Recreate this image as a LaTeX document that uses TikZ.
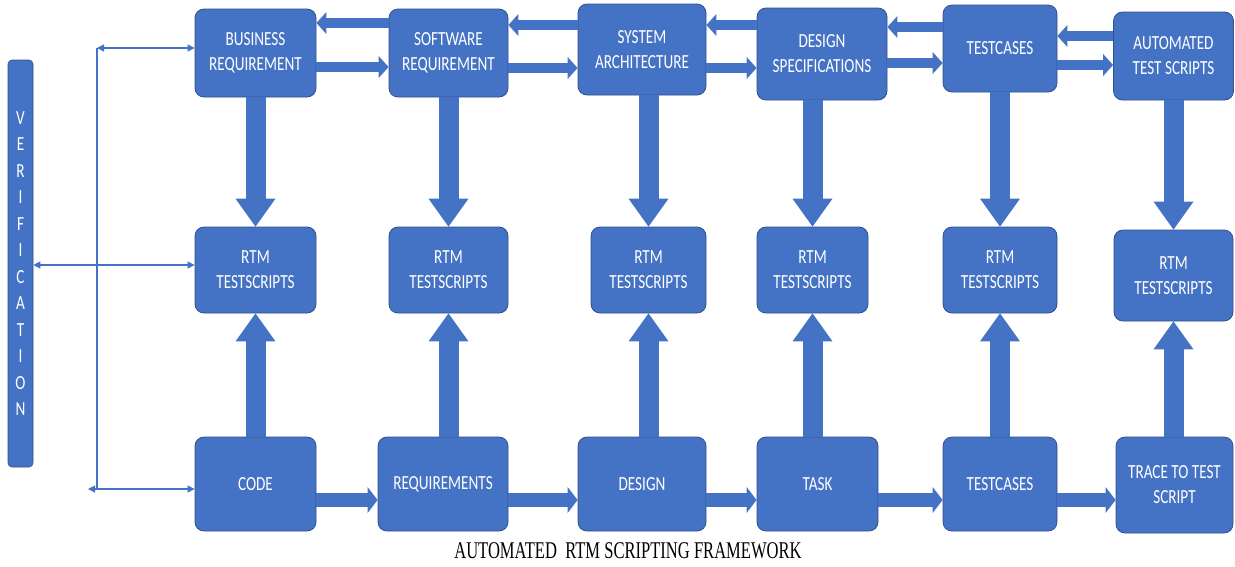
\documentclass[tikz,border=0pt]{standalone}
\usepackage{fontspec}
\setmainfont{Carlito}[FakeStretch=0.76]
\newfontfamily\captionserif{Liberation Serif}[FakeStretch=0.69]
\usepackage{tikz}
\usetikzlibrary{arrows.meta,calc}
\definecolor{boxblue}{HTML}{4472C4}
\definecolor{edgeblue}{HTML}{2F528F}
\tikzset{
  block/.style = {rectangle, rounded corners=9pt, draw=edgeblue, line width=0.8pt,
                  fill=boxblue, text=white, align=center, inner sep=0pt,
                  minimum height=88pt, font=\fontsize{20}{25}\selectfont},
  vbar/.style  = {rectangle, rounded corners=4pt, draw=edgeblue, line width=0.6pt,
                  fill=boxblue, text=white, align=center, inner sep=0pt,
                  font=\fontsize{20}{26.5}\selectfont},
  arr/.style   = {-{Triangle[length=28pt,width=40pt,line width=0pt]}, line width=20pt, boxblue},
  harr/.style  = {-{Triangle[length=10pt,width=22pt,line width=0pt]}, line width=10pt, boxblue},
  barr/.style  = {-{Triangle[length=10pt,width=26pt,line width=0pt]}, line width=14pt, boxblue},
  link/.style  = {{Triangle[length=7pt,width=7pt]}-{Triangle[length=7pt,width=7pt]}, line width=1.1pt, boxblue},
}

\begin{document}
\begin{tikzpicture}[x=1pt,y=-1pt]
  \fill[white] (0,0) rectangle (1235,566);
  \useasboundingbox (0,0) rectangle (1235,566);

  % top row
  \node[block,minimum width=121pt] (br)  at (255.5,53)  {BUSINESS\\REQUIREMENT};
  \node[block,minimum width=119pt] (sr)  at (448.5,53)  {SOFTWARE\\REQUIREMENT};
  \node[block,minimum width=128pt,minimum height=91pt] (sa) at (642,49.5) {SYSTEM\\ARCHITECTURE};
  \node[block,minimum width=130pt,minimum height=92pt] (ds) at (822,54) {DESIGN\\SPECIFICATIONS};
  \node[block,minimum width=114pt,minimum height=87pt] (tct) at (1000,48.5) {TESTCASES};
  \node[block,minimum width=120pt] (ats) at (1173.5,56) {AUTOMATED\\TEST SCRIPTS};

  % middle row
  \node[block,minimum width=121pt,minimum height=86pt] (r1) at (255.5,270) {RTM\\TESTSCRIPTS};
  \node[block,minimum width=119pt,minimum height=86pt] (r2) at (448.5,270) {RTM\\TESTSCRIPTS};
  \node[block,minimum width=115pt,minimum height=86pt] (r3) at (648.5,270) {RTM\\TESTSCRIPTS};
  \node[block,minimum width=111pt,minimum height=86pt] (r4) at (812.5,270) {RTM\\TESTSCRIPTS};
  \node[block,minimum width=114pt,minimum height=86pt] (r5) at (1000,270) {RTM\\TESTSCRIPTS};
  \node[block,minimum width=119pt,minimum height=91pt] (r6) at (1173.5,275.5) {RTM\\TESTSCRIPTS};

  % bottom row
  \node[block,minimum width=121pt,minimum height=94pt] (code)  at (255.5,484) {CODE};
  \node[block,minimum width=130pt,minimum height=94pt] (req)   at (443,484)   {REQUIREMENTS};
  \node[block,minimum width=128pt,minimum height=94pt] (des)   at (642,484)   {DESIGN};
  \node[block,minimum width=121pt,minimum height=94pt] (task)  at (817.5,484) {TASK};
  \node[block,minimum width=114pt,minimum height=94pt] (tcb)   at (1000,484)  {TESTCASES};
  \node[block,minimum width=117pt,minimum height=96pt] (trace) at (1174.5,485) {TRACE TO TEST\\SCRIPT};

  \node[vbar,minimum width=25pt,minimum height=407pt] (verif) at (20.5,263.5)
    {V\\E\\R\\I\\F\\I\\C\\A\\T\\I\\O\\N};

  \node[inner sep=0pt] (title) at (628,550.5)
    {\captionserif\fontsize{24}{26}\selectfont AUTOMATED\ \ RTM SCRIPTING FRAMEWORK};

  % top row links
  \draw[harr] (sr.west |- 0,23) -- (br.east |- 0,23);
  \draw[harr] (br.east |- 0,67) -- (sr.west |- 0,67);
  \draw[harr] (sa.west |- 0,25) -- (sr.east |- 0,25);
  \draw[harr] (sr.east |- 0,68) -- (sa.west |- 0,68);
  \draw[harr] (ds.west |- 0,25) -- (sa.east |- 0,25);
  \draw[harr] (sa.east |- 0,68) -- (ds.west |- 0,68);
  \draw[harr] (tct.west |- 0,27) -- (ds.east |- 0,27);
  \draw[harr] (ds.east |- 0,63) -- (tct.west |- 0,63);
  \draw[harr] (ats.west |- 0,36) -- (tct.east |- 0,36);
  \draw[harr] (tct.east |- 0,65) -- (ats.west |- 0,65);

  % down into the RTM boxes
  \draw[arr] (r1.north |- br.south)  -- (r1.north);
  \draw[arr] (r2.north |- sr.south)  -- (r2.north);
  \draw[arr] (r3.north |- sa.south)  -- (r3.north);
  \draw[arr] (r4.north |- ds.south)  -- (r4.north);
  \draw[arr] (r5.north |- tct.south) -- (r5.north);
  \draw[arr] (r6.north |- ats.south) -- (r6.north);

  % up into the RTM boxes
  \draw[arr] (r1.south |- code.north)  -- (r1.south);
  \draw[arr] (r2.south |- req.north)   -- (r2.south);
  \draw[arr] (r3.south |- des.north)   -- (r3.south);
  \draw[arr] (r4.south |- task.north)  -- (r4.south);
  \draw[arr] (r5.south |- tcb.north)   -- (r5.south);
  \draw[arr] (r6.south |- trace.north) -- (r6.south);

  % bottom row
  \draw[barr] (code.east |- 0,500) -- (req.west |- 0,500);
  \draw[barr] (req.east |- 0,500)  -- (des.west |- 0,500);
  \draw[barr] (des.east |- 0,500)  -- (task.west |- 0,500);
  \draw[barr] (task.east |- 0,500) -- (tcb.west |- 0,500);
  \draw[barr] (tcb.east |- 0,500)  -- (trace.west |- 0,500);

  % verification
  \coordinate (vtop) at (97,48);
  \coordinate (vbot) at (97,489);
  \coordinate (vend) at (88,489);
  \draw[line width=1.1pt,boxblue] (vtop) -- (vbot);
  \draw[link] (vtop) -- (br.west |- vtop);
  \draw[link] (vend) -- (code.west |- vend);
  \draw[link] (verif.east |- 0,265) -- (r1.west |- 0,265);
\end{tikzpicture}
\end{document}
